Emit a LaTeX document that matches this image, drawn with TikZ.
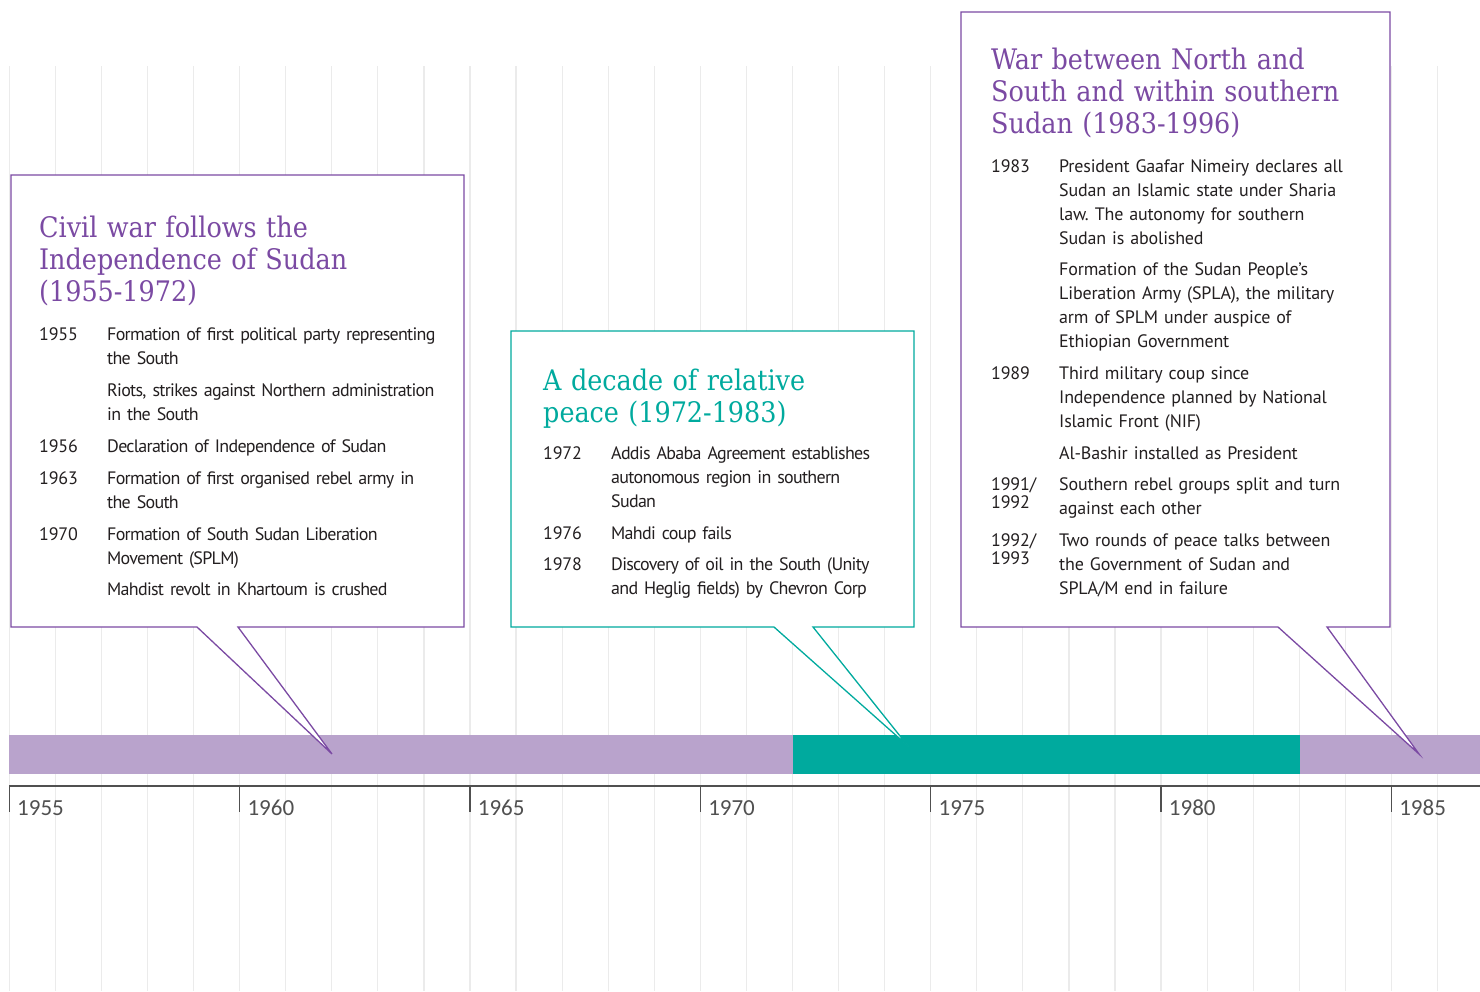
\documentclass[tikz,border=0pt]{standalone}
\usepackage{fontspec}
\newfontfamily\titlefont{DejaVu Serif Condensed}
\newfontfamily\bodyfont[LetterSpace=-1]{PT Sans}
\newfontfamily\tightfont[LetterSpace=-4]{PT Sans}
\newfontfamily\axisfont{Carlito}
\definecolor{warpurple}{HTML}{7B4AA3}
\definecolor{peaceteal}{HTML}{00AA9E}
\definecolor{barpurple}{HTML}{B9A3CC}
\definecolor{gridgray}{HTML}{EBEBEB}
\definecolor{axisgray}{HTML}{505050}
\definecolor{bodytext}{HTML}{231F20}
\begin{document}
\begin{tikzpicture}[x=1pt, y=-1pt]
	\tikzset{
		gridline/.style={gridgray, line width=1.2pt},
		callout/.style={fill=white, line width=1.3pt, line join=miter},
		heading/.style={anchor=base west, inner sep=0pt, text width=420pt, align=left, font=\titlefont\fontsize{28.3}{32}\selectfont},
		entry/.style={anchor=base west, inner sep=0pt, text width=400pt, align=left, text=bodytext, font=\bodyfont\fontsize{18}{24}\selectfont\frenchspacing},
		tight entry/.style={entry, font=\tightfont\fontsize{18}{24}\selectfont\frenchspacing},
		datelbl/.style={anchor=base west, inner sep=0pt, text width=60pt, align=left, text=bodytext, font=\bodyfont\fontsize{18}{18}\selectfont},
		yearlbl/.style={anchor=base west, inner sep=0pt, text=axisgray, font=\axisfont\fontsize{23}{23}\selectfont},
		yeartick/.style={axisgray, line width=1.4pt}
	}
	\useasboundingbox (0,0) rectangle (1480,991);
	% Background grid, one line per year
	\foreach \k in {0,...,31} {
		\draw[gridline] ({9.3+46.07*\k},66) -- ({9.3+46.07*\k},991);
	}
	% Period bar
	\fill[barpurple] (9,735) rectangle (1480,774);
	\fill[peaceteal] (793,735) rectangle (1300,774);
	
	% Axis with ticks every five years
	\draw[yeartick] (9,786) -- (1480,786);
	\foreach \yr [count=\i from 0] in {1955,1960,...,1985} {
		\coordinate (t\yr) at ({9.3+230.35*\i},786);
		\draw[yeartick] (t\yr) -- ++(0,26);
		\node[yearlbl] (y\yr) at ({17+230.35*\i},815) {\yr};
	}
	
	% Callouts
	\coordinate (tip1) at (332,754);
	\coordinate (tip2) at (908,746);
	\coordinate (tip3) at (1419,754);
	\draw[callout, draw=warpurple] (11,175) -- (464,175) -- (464,627) -- (238,627) -- (tip1) -- (197,627) -- (11,627) -- cycle;
	\draw[callout, draw=peaceteal] (511,331) -- (914,331) -- (914,627) -- (813,627) -- (tip2) -- (774,627) -- (511,627) -- cycle;
	\draw[callout, draw=warpurple] (961,12) -- (1390,12) -- (1390,627) -- (1327,627) -- (tip3) -- (1278,627) -- (961,627) -- cycle;
	
	% Headings
	\node[heading, text=warpurple] (civilwar) at (39,237) {Civil war follows the\\Independence of Sudan\\(1955-1972)};
	\node[heading, text=peaceteal] (peace) at (543,390) {A decade of relative\\peace (1972-1983)};
	\node[heading, text=warpurple] (northsouth) at (991,69) {War between North and\\South and within southern\\Sudan (1983-1996)};
	
	% Events 1955-1972
	\foreach \yy/\yr in {340/1955, 452/1956, 484/1963, 540/1970} {
		\node[datelbl] (d\yr) at (39,\yy) {\yr};
	}
	\foreach \yy/\txt [count=\i] in {340/{Formation of first political party representing\\the South},
		396/{Riots, strikes against Northern administration\\in the South},
		452/{Declaration of Independence of Sudan},
		484/{Formation of first organised rebel army in\\the South},
		540/{Formation of South Sudan Liberation\\Movement (SPLM)},
		595/{Mahdist revolt in Khartoum is crushed}} {
		\node[tight entry] (a\i) at (107,\yy) {\txt};
	}
	
	% Events 1972-1983
	\foreach \yy/\yr in {459/1972, 539/1976, 570/1978} {
		\node[datelbl] (d\yr) at (543,\yy) {\yr};
	}
	\foreach \yy/\txt [count=\i] in {459/{Addis Ababa Agreement establishes\\autonomous region in southern\\Sudan},
		539/{Mahdi coup fails},
		570/{Discovery of oil in the South (Unity\\and Heglig fields) by Chevron Corp}} {
		\node[tight entry] (b\i) at (611,\yy) {\txt};
	}
	
	% Events 1983-1996
	\foreach \yy/\yr [count=\i] in {172/1983, 379/1989, 490/{1991/\\1992}, 546/{1992/\\1993}} {
		\node[datelbl] (dc\i) at (991,\yy) {\yr};
	}
	\foreach \yy/\txt [count=\i] in {172/{President Gaafar Nimeiry declares all\\Sudan an Islamic state under Sharia\\law. The autonomy for southern\\Sudan is abolished},
		275/{Formation of the Sudan People’s\\Liberation Army (SPLA), the military\\arm of SPLM under auspice of\\Ethiopian Government},
		379/{Third military coup since\\Independence planned by National\\Islamic Front (NIF)},
		459/{Al-Bashir installed as President},
		490/{Southern rebel groups split and turn\\against each other},
		546/{Two rounds of peace talks between\\the Government of Sudan and\\SPLA/M end in failure}} {
		\node[entry] (c\i) at (1059,\yy) {\txt};
	}
\end{tikzpicture}
\end{document}
